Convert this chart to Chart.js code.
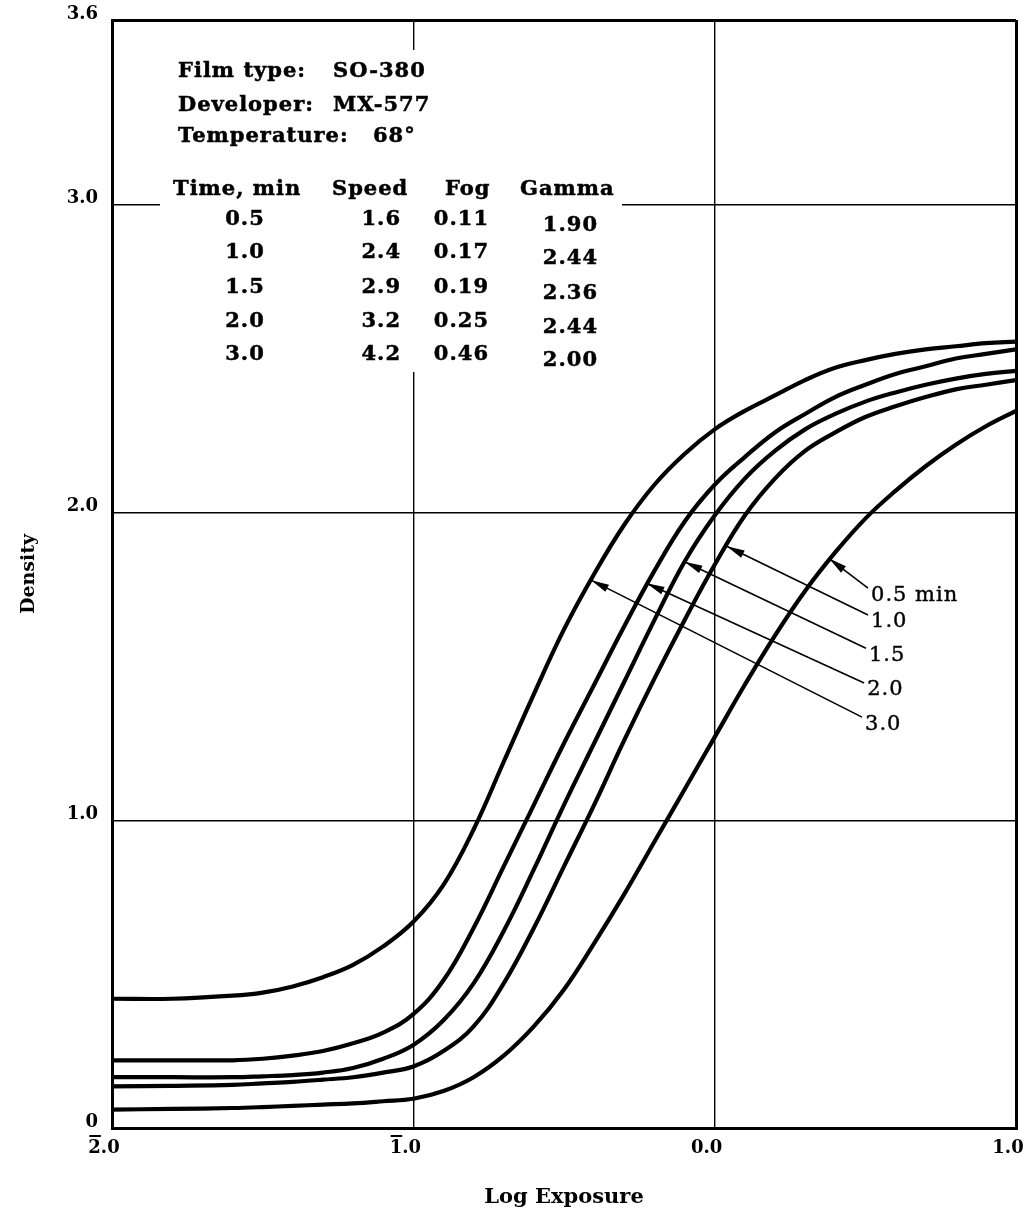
<!DOCTYPE html>
<html>
<head>
<meta charset="utf-8">
<script src="https://cdn.jsdelivr.net/npm/chart.js@4.4.1/dist/chart.umd.min.js"></script>
<style>
  html, body { margin: 0; padding: 0; background: #fff; }
</style>
</head>
<body>
<canvas id="chart" width="1023" height="1216"></canvas>
<script>
// log exposure sample points shared by all curves
const logExposure = [-2.0, -1.8, -1.6, -1.5, -1.4, -1.3, -1.2, -1.1, -1.0, -0.9, -0.8, -0.7, -0.6, -0.5, -0.4, -0.3, -0.2, -0.1,
  0.0, 0.1, 0.2, 0.3, 0.4, 0.5, 0.6, 0.7, 0.8, 0.9, 1.0];

// density (development time in minutes)
const density05 = [0.06, 0.062, 0.065, 0.068, 0.072, 0.076, 0.08, 0.087, 0.095, 0.12, 0.165, 0.235, 0.33, 0.45, 0.60, 0.76, 0.93, 1.10,
  1.27, 1.44, 1.60, 1.745, 1.87, 1.98, 2.07, 2.15, 2.22, 2.28, 2.33];
const density10 = [0.135, 0.137, 0.14, 0.145, 0.15, 0.157, 0.165, 0.18, 0.20, 0.25, 0.33, 0.47, 0.65, 0.85, 1.05, 1.26, 1.46, 1.65,
  1.83, 1.99, 2.11, 2.20, 2.26, 2.31, 2.345, 2.375, 2.40, 2.415, 2.43];
const density15 = [0.165, 0.165, 0.165, 0.168, 0.172, 0.18, 0.195, 0.225, 0.27, 0.35, 0.47, 0.64, 0.84, 1.05, 1.25, 1.45, 1.65, 1.84,
  1.99, 2.11, 2.20, 2.27, 2.32, 2.36, 2.39, 2.415, 2.435, 2.45, 2.46];
const density20 = [0.22, 0.22, 0.22, 0.225, 0.235, 0.25, 0.275, 0.31, 0.37, 0.48, 0.65, 0.85, 1.05, 1.25, 1.44, 1.63, 1.81, 1.97,
  2.09, 2.18, 2.26, 2.32, 2.375, 2.415, 2.45, 2.475, 2.50, 2.515, 2.53];
const density30 = [0.42, 0.42, 0.43, 0.44, 0.46, 0.49, 0.53, 0.59, 0.67, 0.79, 0.97, 1.19, 1.41, 1.62, 1.80, 1.96, 2.09, 2.19,
  2.27, 2.33, 2.38, 2.43, 2.47, 2.495, 2.515, 2.53, 2.54, 2.55, 2.555];

const xTickValues = [-2, -1, 0, 1];
const xTickLabels = ['2.0', '1.0', '0.0', '1.0'];
const xTickBar = [true, true, false, false]; // bar over the characteristic
const yTickValues = [0, 1, 2, 3, 3.6];
const yTickLabels = ['0', '1.0', '2.0', '3.0', '3.6'];

// curve callouts: label, arrow tip on the curve, line end near the label
const curveLabels = ['0.5 min', '1.0', '1.5', '2.0', '3.0'];
const arrowTipX = [0.38, 0.04, -0.10, -0.226, -0.41];
const arrowTipY = [1.85, 1.89, 1.84, 1.77, 1.78];
const arrowEndX = [0.509, 0.509, 0.502, 0.496, 0.489];
const arrowEndY = [1.754, 1.667, 1.559, 1.446, 1.335];

// info table
const infoLabels = ['Film type:', 'Developer:', 'Temperature:'];
const infoValues = ['SO-380', 'MX-577', '68°'];
const tableHeaders = ['Time, min', 'Speed', 'Fog', 'Gamma'];
const tableTime = ['0.5', '1.0', '1.5', '2.0', '3.0'];
const tableSpeed = ['1.6', '2.4', '2.9', '3.2', '4.2'];
const tableFog = ['0.11', '0.17', '0.19', '0.25', '0.46'];
const tableGamma = ['1.90', '2.44', '2.36', '2.44', '2.00'];

const serif = '"DejaVu Serif", serif';
const series = [density05, density10, density15, density20, density30];
const tickFont = { family: serif, size: 18, weight: 'bold' };

// filled and lightly stroked, to get the heavy print look
function heavyText(ctx, t, x, y) {
  ctx.fillText(t, x, y);
  ctx.strokeText(t, x, y);
}

const overlay = {
  id: 'overlay',
  beforeDatasetsDraw(chart) {
    const { ctx, chartArea: ca } = chart;
    const L = ca.left, T = ca.top;
    ctx.save();
    // white box behind the table cuts the grid lines
    ctx.fillStyle = '#fff';
    ctx.fillRect(L + 48, T + 30, 462, 322);

    ctx.fillStyle = '#000';
    ctx.strokeStyle = '#000';
    ctx.lineWidth = 0.5;
    ctx.font = `bold 21px ${serif}`;
    ctx.textBaseline = 'alphabetic';
    ctx.letterSpacing = '1px';

    const infoY = [57, 91, 122];
    const valueX = [221, 221, 261];
    infoLabels.forEach((t, i) => {
      ctx.textAlign = 'left';
      heavyText(ctx, t, L + 66, T + infoY[i]);
      heavyText(ctx, infoValues[i], L + valueX[i], T + infoY[i]);
    });

    const headX = [61, 220, 333, 408];
    tableHeaders.forEach((t, i) => {
      ctx.textAlign = 'left';
      heavyText(ctx, t, L + headX[i], T + 175);
    });

    const rowY = [205, 238, 273, 307, 340];
    tableTime.forEach((t, i) => {
      ctx.textAlign = 'center';
      heavyText(ctx, t, L + 133, T + rowY[i]);
      ctx.textAlign = 'right';
      heavyText(ctx, tableSpeed[i], L + 289, T + rowY[i]);
      heavyText(ctx, tableFog[i], L + 377, T + rowY[i]);
      heavyText(ctx, tableGamma[i], L + 486, T + rowY[i] + 6);
    });
    ctx.restore();
  },
  afterDatasetsDraw(chart) {
    const { ctx, scales: { x, y } } = chart;
    ctx.save();
    ctx.strokeStyle = '#000';
    ctx.fillStyle = '#000';
    ctx.font = `21px ${serif}`;
    ctx.letterSpacing = '1px';
    ctx.textAlign = 'left';
    ctx.textBaseline = 'middle';
    curveLabels.forEach((label, i) => {
      const tx = x.getPixelForValue(arrowTipX[i]);
      const ty = y.getPixelForValue(arrowTipY[i]);
      const ex = x.getPixelForValue(arrowEndX[i]);
      const ey = y.getPixelForValue(arrowEndY[i]);
      ctx.lineWidth = 1.6;
      ctx.beginPath();
      ctx.moveTo(ex, ey);
      ctx.lineTo(tx, ty);
      ctx.stroke();
      const a = Math.atan2(ty - ey, tx - ex);
      const len = 18, w = 4;
      ctx.beginPath();
      ctx.moveTo(tx, ty);
      ctx.lineTo(tx - len * Math.cos(a) + w * Math.sin(a), ty - len * Math.sin(a) - w * Math.cos(a));
      ctx.lineTo(tx - len * Math.cos(a) - w * Math.sin(a), ty - len * Math.sin(a) + w * Math.cos(a));
      ctx.closePath();
      ctx.fill();
      ctx.lineWidth = 0.4;
      heavyText(ctx, label, ex + 3, ey + 7);
    });
    ctx.restore();
  },
  afterDraw(chart) {
    // bar notation over the negative characteristics
    const { ctx, scales: { x } } = chart;
    ctx.save();
    ctx.font = `bold ${tickFont.size}px ${serif}`;
    ctx.fillStyle = '#000';
    xTickValues.forEach((v, i) => {
      if (!xTickBar[i]) return;
      const cx = x.getPixelForValue(v) - 8;
      const w = ctx.measureText(xTickLabels[i]).width;
      const w1 = ctx.measureText(xTickLabels[i][0]).width;
      const left = cx - w / 2;
      ctx.fillRect(left + 1, x.top + 7, w1 - 1, 2);
    });
    ctx.restore();
  }
};

const edgeWidth = (c, lo, hi) => (c.tick && (c.tick.value === lo || c.tick.value === hi) ? 3 : 1.4);

new Chart(document.getElementById('chart').getContext('2d'), {
  type: 'line',
  data: {
    datasets: series.map((ys) => ({
      data: logExposure.map((v, i) => ({ x: v, y: ys[i] })),
      borderColor: '#000',
      borderWidth: 4.2,
      tension: 0.4,
      pointRadius: 0,
      fill: false
    }))
  },
  options: {
    responsive: false,
    animation: false,
    layout: { padding: { top: 20, right: 7, bottom: 0, left: 0 } },
    plugins: {
      legend: { display: false },
      tooltip: { enabled: false }
    },
    scales: {
      x: {
        type: 'linear',
        min: -2,
        max: 1,
        afterBuildTicks: (s) => { s.ticks = xTickValues.map((v) => ({ value: v })); },
        afterFit: (s) => { s.height = 88; s.paddingLeft = 0; s.paddingRight = 0; },
        ticks: {
          callback: (v, i) => xTickLabels[i],
          autoSkip: false,
          maxRotation: 0,
          padding: 10,
          labelOffset: -8,
          color: '#000',
          font: tickFont
        },
        grid: { color: '#000', lineWidth: (c) => edgeWidth(c, -2, 1), drawTicks: false },
        border: { display: true, color: '#000', width: 3 },
        title: {
          display: true,
          text: 'Log Exposure',
          color: '#000',
          padding: { top: 0, bottom: 6 },
          font: { family: serif, size: 21, weight: 'bold' }
        }
      },
      y: {
        min: 0,
        max: 3.6,
        afterBuildTicks: (s) => { s.ticks = yTickValues.map((v) => ({ value: v })); },
        afterFit: (s) => { s.width = 112; s.paddingTop = 0; s.paddingBottom = 0; },
        ticks: {
          callback: (v, i) => yTickLabels[i],
          autoSkip: false,
          padding: 14,
          labelOffset: -6,
          color: '#000',
          font: tickFont
        },
        grid: { color: '#000', lineWidth: (c) => edgeWidth(c, 0, 3.6), drawTicks: false },
        border: { display: true, color: '#000', width: 3 },
        title: {
          display: true,
          text: 'Density',
          color: '#000',
          padding: { top: 18, bottom: 0 },
          font: { family: serif, size: 19, weight: 'bold' }
        }
      }
    }
  },
  plugins: [overlay]
});
</script>
</body>
</html>
